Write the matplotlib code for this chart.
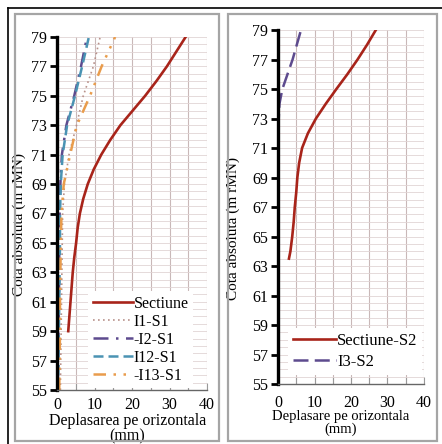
import matplotlib
matplotlib.use('Agg')
import matplotlib.pyplot as plt
from matplotlib.patches import Rectangle
from matplotlib.lines import Line2D
from matplotlib.ticker import MultipleLocator

plt.rcParams['font.family'] = ['Liberation Serif', 'DejaVu Serif']

# Sectiunea S1 - calcul vs inclinometre
cota_s1 = [59, 60, 61, 62, 63, 64, 65, 66, 67, 68, 69, 70, 71, 72, 73, 74, 75, 76, 77, 78, 79]
sectiune_s1 = [3.0, 3.3, 3.6, 3.9, 4.2, 4.6, 5.1, 5.5, 6.1, 7.0, 8.2, 9.8, 11.8, 14.2,
               16.9, 20.2, 23.5, 26.5, 29.3, 31.8, 34.3]

cota_inc = [55, 57, 59, 61, 63, 65, 67, 69, 71, 73, 75, 77, 79]
i1_s1 = [0.9, 1.0, 1.1, 1.2, 1.3, 1.4, 1.5, 2.0, 3.2, 5.2, 7.0, 9.7, 11.5]
i2_s1 = [0.2, 0.3, 0.4, 0.5, 0.6, 0.6, 0.7, 0.9, 1.3, 2.5, 4.6, 6.4, 8.0]
i12_s1 = [0.3, 0.4, 0.5, 0.6, 0.7, 0.8, 0.8, 1.0, 1.5, 2.7, 4.8, 6.7, 8.5]
i13_s1 = [0.6, 0.7, 0.8, 0.8, 0.9, 1.0, 1.2, 1.8, 3.5, 5.3, 8.8, 11.9, 15.5]

# Sectiunea S2
cota_s2 = [63.5, 64, 65, 66, 67, 68, 69, 70, 71, 72, 73, 74, 75, 76, 77, 78, 79]
sectiune_s2 = [3.0, 3.4, 3.9, 4.3, 4.6, 5.0, 5.3, 5.8, 6.6, 8.2, 10.4, 13.1, 16.0,
               19.0, 21.8, 24.4, 26.8]
cota_i3 = [55, 59, 63, 67, 71, 73, 74, 75, 77, 79]
i3_s2 = [0.0, 0.0, 0.0, 0.0, 0.1, 0.2, 0.4, 1.2, 4.0, 6.3]

yticks = list(range(55, 80, 2))
xticks = [0, 10, 20, 30, 40]

RED = '#a8241a'
PURPLE = '#5d4b8e'
TEAL = '#4a93b3'
ORANGE = '#e99c4c'
DOTS = '#b8918a'

W, H = 442, 444
fig = plt.figure(figsize=(W / 100, H / 100), dpi=100)


def fx(px):
    return px / W


def fy(py):
    return 1 - py / H


# outer frame and panel boxes
fig.add_artist(Line2D([fx(8), 1], [fy(8), fy(8)], color='black', lw=1.2))
fig.add_artist(Line2D([fx(8), fx(8)], [fy(8), 0], color='black', lw=1.2))
for x0, x1 in [(15, 219), (228, 437)]:
    fig.add_artist(Rectangle((fx(x0), fy(441)), fx(x1 - x0), (441 - 14) / H,
                             fill=False, edgecolor='#a5a5a5', lw=1.6))


def style(ax, xpad):
    ax.set_xlim(0, 40)
    ax.set_ylim(55, 79)
    ax.set_yticks(yticks)
    ax.set_xticks(xticks)
    ax.xaxis.set_minor_locator(MultipleLocator(5))
    ax.yaxis.set_minor_locator(MultipleLocator(0.5))
    ax.grid(which='both', axis='y', color='#e0d4d4', lw=0.6)
    ax.grid(which='both', axis='x', color='#c9b8b8', lw=0.8)
    for s in ['top', 'right']:
        ax.spines[s].set_visible(False)
    ax.spines['left'].set_linewidth(2.4)
    ax.spines['left'].set_color('black')
    ax.spines['bottom'].set_linewidth(1.0)
    ax.spines['bottom'].set_color('#666666')
    ax.tick_params(axis='y', which='major', direction='out', length=5, width=2,
                   labelsize=11.5, pad=2)
    ax.tick_params(axis='y', which='minor', length=0)
    ax.tick_params(axis='x', which='both', direction='in', length=5, width=0.8,
                   color='#999999', labelsize=11.5, pad=xpad)
    ax.set_axisbelow(True)


# Panel S1
ax1 = fig.add_axes([fx(57), fy(390), fx(207 - 57), (390 - 37) / H])
style(ax1, 5)
ax1.plot(sectiune_s1, cota_s1, color=RED, lw=1.9, label='Sectiune', zorder=5)
ax1.plot(i1_s1, cota_inc, color=DOTS, lw=1.2, ls=(0, (1, 2)), label='I1-S1')
ax1.plot(i2_s1, cota_inc, color=PURPLE, lw=1.8, ls=(0, (6, 3, 1, 3)), label='-I2-S1')
ax1.plot(i12_s1, cota_inc, color=TEAL, lw=1.8, ls=(0, (4, 2)), label='I12-S1')
ax1.plot(i13_s1, cota_inc, color=ORANGE, lw=1.8, ls=(0, (5, 3, 1, 3, 1, 3)), label='-I13-S1')
ax1.set_xlabel('Deplasarea pe orizontala\n(mm)', fontsize=11.5, labelpad=0,
               linespacing=0.95, x=0.47)
ax1.set_ylabel('Cota absoluta (m rMN)', fontsize=11)
ax1.yaxis.set_label_coords(-0.21, 0.47)
ax1.legend(loc='lower right', bbox_to_anchor=(0.92, 0.0), fontsize=11.5,
           frameon=True, framealpha=1, edgecolor='none', fancybox=False,
           handlelength=2.5, handletextpad=0.05, labelspacing=0.12,
           borderpad=0.3, borderaxespad=0.1)

# Panel S2
ax2 = fig.add_axes([fx(278), fy(384), fx(424 - 278), (384 - 30) / H])
style(ax2, 8)
ax2.plot(sectiune_s2, cota_s2, color=RED, lw=1.9, label='Sectiune-S2', zorder=5)
ax2.plot(i3_s2, cota_i3, color=PURPLE, lw=1.8, ls=(0, (6, 2.5)), label='I3-S2')
ax2.set_xlabel('Deplasare pe orizontala\n(mm)', fontsize=10.5, labelpad=-1,
               linespacing=0.95, x=0.43)
ax2.set_ylabel('Cota absoluta (m rMN)', fontsize=11)
ax2.yaxis.set_label_coords(-0.26, 0.44)
ax2.legend(loc='lower right', bbox_to_anchor=(1.0, 0.02), fontsize=12,
           frameon=True, framealpha=1, edgecolor='none', fancybox=False,
           handlelength=2.6, handletextpad=0.05, labelspacing=0.3,
           borderpad=0.3, borderaxespad=0.1)

fig.savefig('out.png', dpi=100, facecolor='white')
